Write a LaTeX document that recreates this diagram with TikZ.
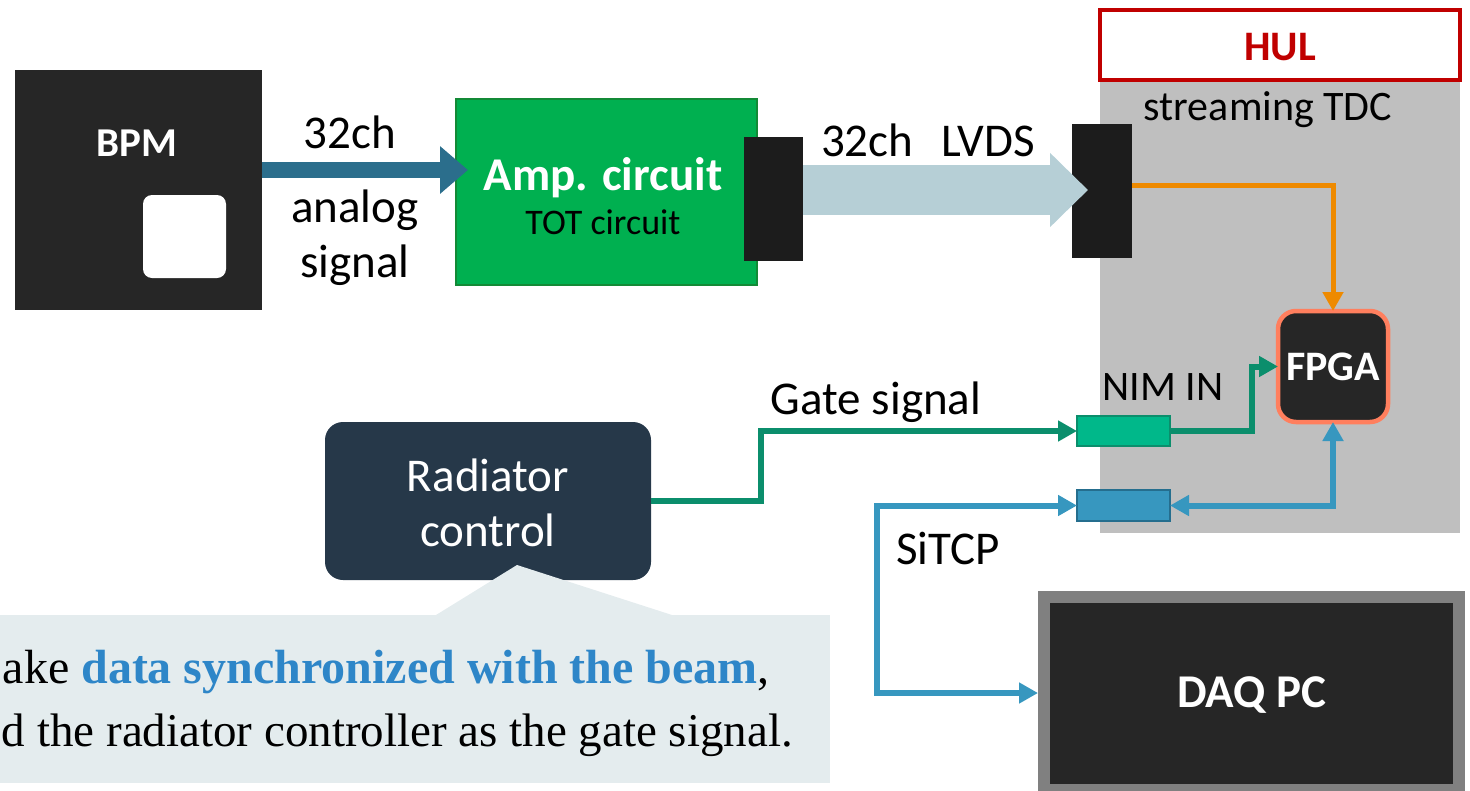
\documentclass[tikz,border=0pt]{standalone}
\usepackage{fontspec}
\setmainfont{Carlito}
\newfontfamily\notefont{Liberation Serif}
\usetikzlibrary{arrows.meta,positioning}

\definecolor{boxdark}{HTML}{262626}
\definecolor{ampgreen}{HTML}{00B050}
\definecolor{ampedge}{HTML}{138A36}
\definecolor{bpmarrow}{HTML}{2B6E8C}
\definecolor{lvdsarrow}{HTML}{B6CFD6}
\definecolor{hulred}{HTML}{C00000}
\definecolor{panelgray}{HTML}{BFBFBF}
\definecolor{tdcorange}{HTML}{EE8A00}
\definecolor{fpgaedge}{HTML}{FF7F5E}
\definecolor{gategreen}{HTML}{0B8E6C}
\definecolor{nimfill}{HTML}{00B88A}
\definecolor{sitcpblue}{HTML}{3797BF}
\definecolor{sitcpedge}{HTML}{256E8E}
\definecolor{raddark}{HTML}{263849}
\definecolor{daqedge}{HTML}{808080}
\definecolor{notebg}{HTML}{E4ECEE}
\definecolor{noteblue}{HTML}{2E86C8}

\begin{document}
\begin{tikzpicture}[x=1pt,y=-1pt]
\tikzset{
  blockbox/.style={rectangle,inner sep=0pt,outer sep=0pt},
  plug/.style={blockbox,fill=black!89},
  port/.style={blockbox,line width=1.6pt},
  bigtext/.style={font=\fontsize{47}{55}\selectfont,align=center,inner sep=0pt},
  midtext/.style={font=\fontsize{42}{50}\selectfont,inner sep=0pt},
  wire/.style={line width=6pt,-{Triangle[length=19pt,width=20pt]}},
  notetext/.style={font=\notefont\fontsize{47}{55}\selectfont,inner sep=0pt,anchor=base east}
}
\clip (0,0) rectangle (1470,790);
% BPM and amplifier
\node[blockbox,fill=boxdark,minimum width=247pt,minimum height=240pt] (n_bpm) at (138.5,190) {};
\node[text=white,font=\bfseries\fontsize{41}{41}\selectfont,inner sep=0pt] (n_bpmt) at (137,143) {BPM};
\node[blockbox,fill=white,rounded corners=9pt,minimum width=83pt,minimum height=83pt] (n_pad) at (184.5,236.5) {};
\node[blockbox,fill=ampgreen,draw=ampedge,line width=2pt,minimum width=301pt,minimum height=186pt] (n_amp) at (606.5,192) {};
\node[text=white,font=\bfseries\fontsize{47}{47}\selectfont,inner sep=0pt] (n_ampt) at (603,178) {Amp. circuit};
\node[font=\fontsize{36}{36}\selectfont,inner sep=0pt] (n_tot) at (603,222) {TOT circuit};
\node[plug,minimum width=59pt,minimum height=124pt] (n_conA) at (773.5,199) {};
\draw[bpmarrow,line width=16pt,-{Triangle[length=28pt,width=46pt]}] (n_bpm.east |- 0,170) -- ([xshift=12pt]n_amp.west |- 0,170);
\node[bigtext] (n_ch) at (350,132) {32ch};
\node[bigtext] (n_analog) at (355,237.5) {analog\\signal};
% HUL board
\node[blockbox,fill=panelgray,minimum width=360pt,minimum height=453pt,anchor=north west] (n_panel) at (1100,80) {};
\node[blockbox,fill=white,draw=hulred,line width=4pt,minimum width=360pt,minimum height=70pt,anchor=north west] (n_hul) at (1100,10) {};
\node[text=hulred,font=\bfseries\fontsize{42}{42}\selectfont,inner sep=0pt] (n_hult) at (1280,47) {HUL};
\node[midtext] (n_tdc) at (1268,110) {streaming TDC};
\node[plug,minimum width=60pt,minimum height=134pt] (n_conB) at (1102,191) {};
\draw[lvdsarrow,line width=50pt,-{Triangle[length=38pt,width=72pt]}] (n_conA.east |- 0,190) -- ([xshift=16pt]n_conB.west |- 0,190);
\node[bigtext] (n_lvds) at (928,140) {32ch\hspace{0.6em}LVDS};
\node[blockbox,fill=boxdark,draw=fpgaedge,line width=4.5pt,rounded corners=18pt,minimum width=110pt,minimum height=111pt] (n_fpga) at (1333,366.5) {};
\node[text=white,font=\bfseries\fontsize{42}{42}\selectfont,inner sep=0pt] (n_fpgat) at (1333,367) {FPGA};
\node[port,fill=nimfill,draw=gategreen,minimum width=93pt,minimum height=30pt] (n_nim) at (1123.5,431) {};
\node[port,fill=sitcpblue,draw=sitcpedge,minimum width=93pt,minimum height=31pt] (n_sitcp) at (1123.5,505.5) {};
\node[midtext] (n_nimt) at (1163,387) {NIM IN};
\draw[wire,tdcorange,line width=5pt] (n_conB.east |- 0,185) -| (n_fpga.north);
% radiator control and gate
\node[blockbox,fill=raddark,rounded corners=18pt,minimum width=326pt,minimum height=158pt] (n_rad) at (488,501) {};
\node[bigtext,text=white] (n_radt) at (488,502.5) {Radiator\\control};
\draw[wire,gategreen] (n_rad.east) -- ++(110,0) |- (n_nim.west);
\draw[wire,gategreen] (n_nim.east) -- ++(82,0) |- (n_fpga.west);
\node[bigtext] (n_gate) at (876,402) {Gate signal};
% readout
\node[blockbox,fill=boxdark,draw=daqedge,line width=12pt,minimum width=415pt,minimum height=193pt] (n_daq) at (1251.5,693) {};
\node[text=white,font=\bfseries\fontsize{47}{47}\selectfont,inner sep=0pt] (n_daqt) at (1252,695) {DAQ PC};
\draw[wire,sitcpblue,{Triangle[length=19pt,width=20pt]}-{Triangle[length=19pt,width=20pt]}] (n_sitcp.east) -| (n_fpga.south);
\draw[wire,sitcpblue,{Triangle[length=19pt,width=20pt]}-{Triangle[length=19pt,width=20pt]}] (n_sitcp.west) -- ++(-200,0) |- ([xshift=-6pt]n_daq.west);
\node[bigtext] (n_sitcpt) at (948,548) {SiTCP};
% note
\node[blockbox,fill=notebg,minimum width=830pt,minimum height=168pt,anchor=north west] (n_note) at (0,615) {};
\fill[notebg] (436,615) -- (517,565) -- (672,615) -- cycle;
\node[notetext,font=\notefont\fontsize{48}{55}\selectfont] (n_line1) at (770,683) {ake \textbf{\textcolor{noteblue}{data synchronized with the beam}},};
\node[notetext] (n_line2) at (793,746) {d the radiator controller as the gate signal.};
\end{tikzpicture}
\end{document}
